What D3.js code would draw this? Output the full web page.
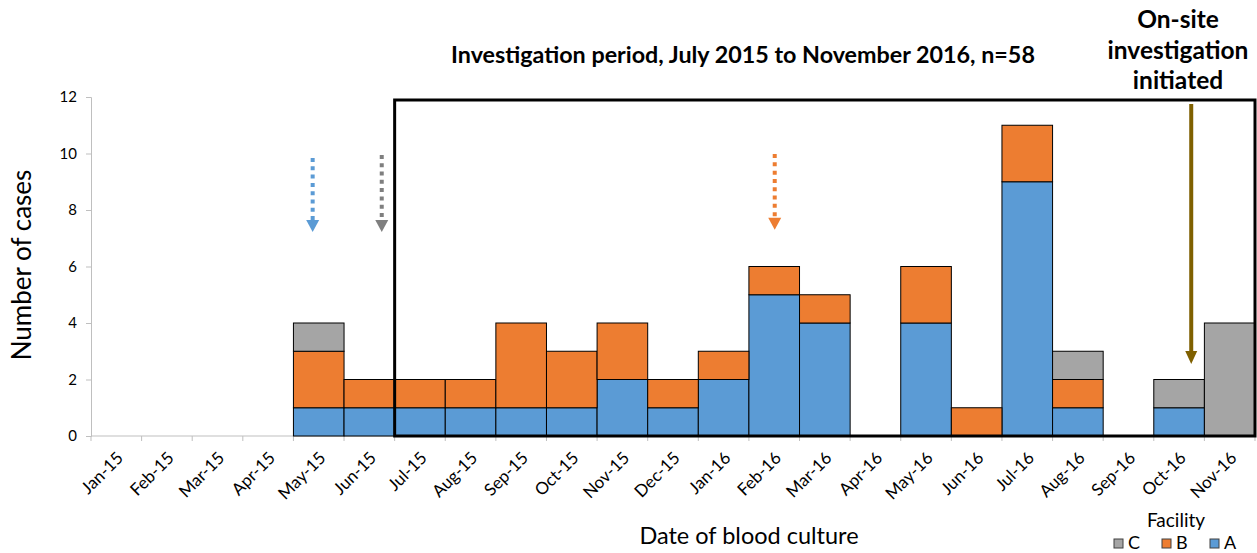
<!DOCTYPE html>
<html>
<head>
<meta charset="utf-8">
<script src="https://cdn.jsdelivr.net/npm/d3@7"></script>
<style>
  body { margin: 0; background: #fff; }
  text { font-family: Lato, "Open Sans", "Liberation Sans", sans-serif; fill: #000; }
</style>
</head>
<body>
<div class="chart"></div>
<script>
const months = ['Jan-15', 'Feb-15', 'Mar-15', 'Apr-15', 'May-15', 'Jun-15', 'Jul-15', 'Aug-15',
    'Sep-15', 'Oct-15', 'Nov-15', 'Dec-15', 'Jan-16', 'Feb-16', 'Mar-16', 'Apr-16',
    'May-16', 'Jun-16', 'Jul-16', 'Aug-16', 'Sep-16', 'Oct-16', 'Nov-16'];
const facilityA = [0, 0, 0, 0, 1, 1, 1, 1, 1, 1, 2, 1, 2, 5, 4, 0, 4, 0, 9, 1, 0, 1, 0];
const facilityB = [0, 0, 0, 0, 2, 1, 1, 1, 3, 2, 2, 1, 1, 1, 1, 0, 2, 1, 2, 1, 0, 0, 0];
const facilityC = [0, 0, 0, 0, 1, 0, 0, 0, 0, 0, 0, 0, 0, 0, 0, 0, 0, 0, 0, 1, 0, 1, 4];
const yTicks = [0, 2, 4, 6, 8, 10, 12];
const keys = ['A', 'B', 'C'];
const colors = {A: '#5B9BD5', B: '#ED7D31', C: '#A5A5A5'};

// dotted arrows: month, position inside the band, top and tip in case units
const hintArrows = [
    {month: 'May-15', offset: 0.38, top: 9.84, bottom: 7.22, color: '#5B9BD5'},
    {month: 'Jun-15', offset: 0.745, top: 9.95, bottom: 7.22, color: '#7F7F7F'},
    {month: 'Feb-16', offset: 0.51, top: 9.98, bottom: 7.3, color: '#ED7D31'}
];

const W = 1257, H = 553;
const margin = {top: 97, right: 2, bottom: 117, left: 91};
const width = W - margin.left - margin.right;
const height = H - margin.top - margin.bottom;

const data = months.map((m, i) => ({month: m, A: facilityA[i], B: facilityB[i], C: facilityC[i]}));

const svg = d3.select('.chart')
    .append('svg')
    .attr('width', W)
    .attr('height', H);

const group = svg.append('g')
    .attr('transform', `translate(${margin.left},${margin.top})`);

const xScale = d3.scaleBand()
    .domain(months)
    .range([0, width])
    .padding(0);

const yScale = d3.scaleLinear()
    .domain([0, 12])
    .range([height, 0]);

// y axis
const yAxis = group.append('g')
    .call(d3.axisLeft(yScale).tickValues(yTicks).tickSize(5).tickPadding(9));
yAxis.select('.domain').attr('stroke', '#BFBFBF');
yAxis.selectAll('.tick line').attr('stroke', '#BFBFBF');
yAxis.selectAll('.tick text')
    .attr('font-size', 15)
    .attr('font-family', 'Lato, sans-serif')
    .attr('fill', '#000');

// x axis: ticks on band edges
const xAxis = group.append('g')
    .attr('transform', `translate(0,${height})`);
xAxis.append('line')
    .attr('x1', 0).attr('x2', width)
    .attr('stroke', '#BFBFBF');
xAxis.selectAll('.edge')
    .data(months.concat(['end']))
    .enter()
    .append('line')
    .attr('x1', (d, i) => i * xScale.step())
    .attr('x2', (d, i) => i * xScale.step())
    .attr('y1', 0).attr('y2', 5)
    .attr('stroke', '#BFBFBF');
xAxis.selectAll('.lbl')
    .data(months)
    .enter()
    .append('text')
    .attr('transform', d => `translate(${xScale(d) + xScale.bandwidth() / 2 + 8},${23}) rotate(-45)`)
    .attr('text-anchor', 'end')
    .attr('font-size', 17)
    .text(d => d);

// stacked bars
const stacked = d3.stack().keys(keys)(data);
group.selectAll('.layer')
    .data(stacked)
    .enter()
    .append('g')
    .attr('fill', d => colors[d.key])
    .selectAll('rect')
    .data(d => d.filter(v => v[1] - v[0] > 0))
    .enter()
    .append('rect')
    .attr('x', d => xScale(d.data.month))
    .attr('y', d => yScale(d[1]))
    .attr('width', xScale.bandwidth())
    .attr('height', d => yScale(d[0]) - yScale(d[1]))
    .attr('stroke', '#000')
    .attr('stroke-width', 1);

// investigation period box
group.append('rect')
    .attr('x', xScale('Jul-15'))
    .attr('y', 3)
    .attr('width', width - xScale('Jul-15'))
    .attr('height', height - 3)
    .attr('fill', 'none')
    .attr('stroke', '#000')
    .attr('stroke-width', 3);

function arrowHead(x, tipY, w, h, color) {
    group.append('path')
        .attr('d', `M${x - w / 2},${tipY - h}L${x + w / 2},${tipY - h}L${x},${tipY}Z`)
        .attr('fill', color);
}

hintArrows.forEach(a => {
    const x = xScale(a.month) + xScale.bandwidth() * a.offset;
    const tip = yScale(a.bottom);
    group.append('line')
        .attr('x1', x).attr('x2', x)
        .attr('y1', yScale(a.top))
        .attr('y2', tip - 12)
        .attr('stroke', a.color)
        .attr('stroke-width', 4)
        .attr('stroke-dasharray', '4,4.3');
    arrowHead(x, tip, 13, 12, a.color);
});

// on-site arrow
const xOn = xScale('Oct-16') + xScale.bandwidth() * 0.74;
group.append('line')
    .attr('x1', xOn).attr('x2', xOn)
    .attr('y1', yScale(11.75))
    .attr('y2', yScale(2.55) - 12)
    .attr('stroke', '#7F6000')
    .attr('stroke-width', 4);
arrowHead(xOn, yScale(2.55), 12, 13, '#7F6000');

// titles
svg.append('text')
    .attr('x', 743).attr('y', 63)
    .attr('text-anchor', 'middle')
    .attr('font-size', 23.3)
    .attr('font-weight', 'bold')
    .text('Investigation period, July 2015 to November 2016, n=58');

const onsite = svg.append('text')
    .attr('text-anchor', 'middle')
    .attr('font-size', 24.5)
    .attr('font-weight', 'bold');
['On-site', 'investigation', 'initiated'].forEach((t, i) => {
    onsite.append('tspan').attr('x', 1178).attr('y', 28 + i * 30.5).text(t);
});

svg.append('text')
    .attr('x', 749).attr('y', 544)
    .attr('text-anchor', 'middle')
    .attr('font-size', 23.5)
    .text('Date of blood culture');

svg.append('text')
    .attr('transform', 'translate(31,265) rotate(-90)')
    .attr('text-anchor', 'middle')
    .attr('font-size', 26)
    .text('Number of cases');

// legend
svg.append('text')
    .attr('x', 1176).attr('y', 527)
    .attr('text-anchor', 'middle')
    .attr('font-size', 19)
    .text('Facility');
const legend = svg.append('g');
const legendItems = ['C', 'B', 'A'];
const legendX = [1114, 1162, 1210];
legendItems.forEach((k, i) => {
    legend.append('rect')
        .attr('x', legendX[i]).attr('y', 539)
        .attr('width', 9).attr('height', 9)
        .attr('fill', colors[k])
        .attr('stroke', '#404040')
        .attr('stroke-width', 1);
    legend.append('text')
        .attr('x', legendX[i] + 14).attr('y', 549)
        .attr('font-size', 18)
        .text(k);
});
</script>
</body>
</html>
